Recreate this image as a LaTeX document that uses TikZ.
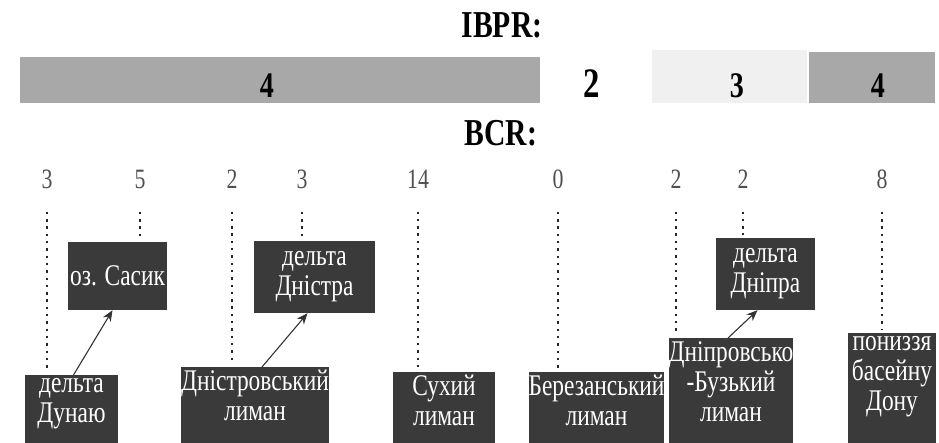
\documentclass[tikz,border=0pt]{standalone}
\usepackage{fontspec}
\setmainfont{Liberation Serif}[FakeStretch=0.78]
\usepackage{tikz}
\usetikzlibrary{arrows.meta, positioning}
\definecolor{boxgray}{RGB}{58,58,58}
\definecolor{bargray}{RGB}{168,168,168}
\definecolor{barlight}{RGB}{240,240,240}
\definecolor{numgray}{RGB}{80,80,80}

\begin{document}
\begin{tikzpicture}[x=1pt, y=-1pt,
    site/.style={fill=boxgray, text=white, align=center, inner xsep=0pt, inner ysep=3pt,
        font=\fontsize{30}{30}\selectfont},
    lowsite/.style={site, anchor=north, text depth=60pt},
    bcrnum/.style={anchor=base, text=numgray, font=\fontsize{28}{30}\selectfont},
    ibprnum/.style={anchor=base, font=\fontsize{36}{38}\selectfont\bfseries},
    heading/.style={anchor=base, font=\fontsize{38}{40}\selectfont\bfseries},
    dots/.style={line width=2.4pt, dash pattern=on 2.4pt off 4.9pt, draw=black!85, shorten >=3pt},
    arr/.style={-{Stealth[length=11pt, width=9pt]}, line width=1.1pt, draw=black!80}]
    \useasboundingbox (0,0) rectangle (939,442);

    % 見出し
    \node[heading] (ibpr) at (502,37) {IBPR:};
    \node[heading] (bcr) at (501,145) {BCR:};

    % IBPR の帯
    \fill[bargray] (20,57) rectangle (540,103);
    \fill[barlight] (652,50) rectangle (807,103);
    \fill[bargray] (809,52) rectangle (935,103);
    \node[ibprnum] (r1) at (267,97) {4};
    \node[ibprnum, font=\fontsize{42}{44}\selectfont\bfseries] (r2) at (592,97) {2};
    \node[ibprnum] (r3) at (737,97) {3};
    \node[ibprnum] (r4) at (878,97) {4};

    % BCR の値
    \foreach \x/\v [count=\i] in {47/3, 140/5, 232/2, 302/3, 418/14, 558/0, 676/2, 743/2, 882/8}
        \node[bcrnum] (n\i) at (\x,188) {\v};

    % 上段の湿地
    \node[site, minimum width=99pt, minimum height=68pt] (sasyk) at (117.5,276) {оз. Сасик};
    \node[site, minimum width=121pt, minimum height=72pt] (dnisterdelta) at (314.5,277) {дельта\\Дністра};
    \node[site, minimum width=99pt, minimum height=72pt] (dniprodelta) at (765.5,274) {дельта\\Дніпра};

    % 下段の湿地
    \node[lowsite, minimum width=93pt] (dunai) at (71.5,375) {дельта\\Дунаю};
    \node[lowsite, minimum width=140pt] (dnisterlyman) at (255,367) {Дністровський\\лиман};
    \node[lowsite, minimum width=102pt] (sukhyi) at (444,372) {Сухий\\лиман};
    \node[lowsite, minimum width=133pt] (berezan) at (596.5,372) {Березанський\\лиман};
    \node[lowsite, minimum width=118pt] (dniprobuh) at (731,338) {Дніпровсько\\-Бузький\\лиман};
    \node[lowsite, minimum width=88pt] (don) at (892,333) {пониззя\\басейну\\Дону};

    % 点線
    \foreach \i/\site in {1/dunai, 2/sasyk, 3/dnisterlyman, 4/dnisterdelta, 5/sukhyi,
                          6/berezan, 7/dniprobuh, 8/dniprodelta, 9/don}
        \draw[dots] ([yshift=-20pt]n\i.south) -- (n\i |- \site.north);

    % 矢印
    \draw[arr] ([xshift=2pt]dunai.north) -- ([xshift=-5pt]sasyk.south);
    \draw[arr] ([xshift=7pt]dnisterlyman.north) -- ([xshift=-7pt]dnisterdelta.south);
    \draw[arr] ([xshift=-3pt]dniprobuh.north) -- ([xshift=-8pt]dniprodelta.south);
\end{tikzpicture}
\end{document}
